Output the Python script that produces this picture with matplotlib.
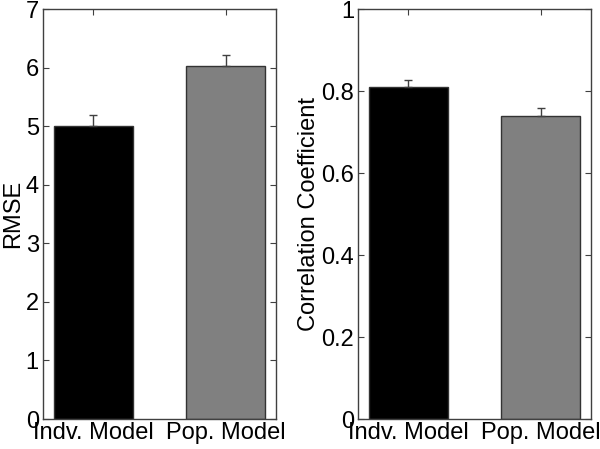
import numpy as np
import matplotlib
matplotlib.use("Agg")
from matplotlib import pyplot as plt

plt.rcParams['font.family'] = ['Liberation Sans', 'DejaVu Sans']

# data
models = ["Indv. Model", "Pop. Model"]
rmse = [5.0, 6.02]
rmse_err = [0.19, 0.19]
corr = [0.81, 0.739]
corr_err = [0.016, 0.02]
colors = ["black", "#808080"]

fig = plt.figure(figsize=(6, 4.49), dpi=100)
ax1 = fig.add_axes([0.0717, 0.0668, 0.388, 0.913])
ax2 = fig.add_axes([0.597, 0.0668, 0.388, 0.913])


def draw(ax, vals, errs, ylim, yticks, ylabel):
    x = np.arange(1, len(vals) + 1)
    ax.bar(x, vals, width=0.6, color=colors, edgecolor="#333333", linewidth=1, zorder=2)
    ax.errorbar(x, vals, yerr=[np.zeros(len(errs)), errs], fmt="none",
                ecolor="#404040", elinewidth=1, capsize=3.2, capthick=1, zorder=3)
    ax.set_xlim(0.62, 2.38)
    ax.set_ylim(*ylim)
    ax.set_xticks(x)
    ax.set_xticklabels(models)
    ax.set_yticks(yticks)
    ax.tick_params(direction="in", top=True, right=True, labelsize=17, length=4,
                   color="#404040", width=0.8)
    ax.tick_params(axis="x", pad=2.5)
    ax.tick_params(axis="y", pad=3)
    for s in ax.spines.values():
        s.set_color("#404040")
        s.set_linewidth(1)
    ax.set_ylabel(ylabel, fontsize=17, labelpad=1)


draw(ax1, rmse, rmse_err, (0, 7), range(0, 8), "RMSE")
draw(ax2, corr, corr_err, (0, 1), [0, 0.2, 0.4, 0.6, 0.8, 1], "Correlation Coefficient")
ax2.set_yticklabels(["0", "0.2", "0.4", "0.6", "0.8", "1"])

plt.savefig("out.png", dpi=100)
